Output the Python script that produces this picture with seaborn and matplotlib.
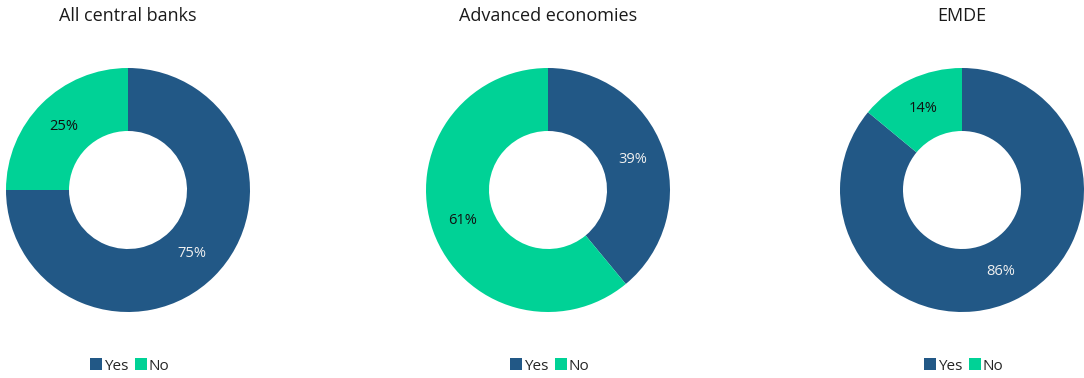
import matplotlib
matplotlib.use("Agg")
import matplotlib.pyplot as plt
from matplotlib.patches import Patch
import seaborn as sns

sns.set_theme(style="white")
plt.rcParams["font.family"] = ["Open Sans", "DejaVu Sans"]

panels = ["All central banks", "Advanced economies", "EMDE"]
categories = ["Yes", "No"]
yes_share = [75, 39, 86]
no_share = [25, 61, 14]

colors = ["#225886", "#00D296"]
label_colors = ["#f0f0f0", "#111111"]

W, H = 1084, 378
centers_x = [128, 548, 962]
center_y = 190
radius_px = 122
inner_frac = 59 / 122

fig = plt.figure(figsize=(W / 100, H / 100), dpi=100)

for i, title in enumerate(panels):
    cx = centers_x[i]
    ax = fig.add_axes([(cx - radius_px) / W, (H - center_y - radius_px) / H,
                       2 * radius_px / W, 2 * radius_px / H])
    values = [yes_share[i], no_share[i]]
    wedges, texts = ax.pie(values, colors=colors, startangle=90, counterclock=False,
                           radius=1, wedgeprops=dict(width=1 - inner_frac, linewidth=0),
                           labels=[f"{v}%" for v in values],
                           labeldistance=(1 + inner_frac) / 2)
    for t, c in zip(texts, label_colors):
        t.set_color(c)
        t.set_fontsize(10.5)
        t.set_ha("center")
        t.set_va("center")
    ax.set_xlim(-1, 1)
    ax.set_ylim(-1, 1)
    ax.set_aspect("equal")
    ax.axis("off")

    fig.text(cx / W, 1 - 16 / H, title, ha="center", va="center",
             fontsize=13, color="#1a1a1a")

    handles = [Patch(facecolor=c, edgecolor="none") for c in colors]
    fig.legend(handles, categories, loc="center", bbox_to_anchor=((cx + 2) / W, 1 - 366 / H),
               ncol=2, frameon=False, fontsize=11, handlelength=0.8, handleheight=0.8,
               handletextpad=0.1, columnspacing=0.45, borderpad=0)

fig.savefig("out.png", dpi=100, facecolor="white")
